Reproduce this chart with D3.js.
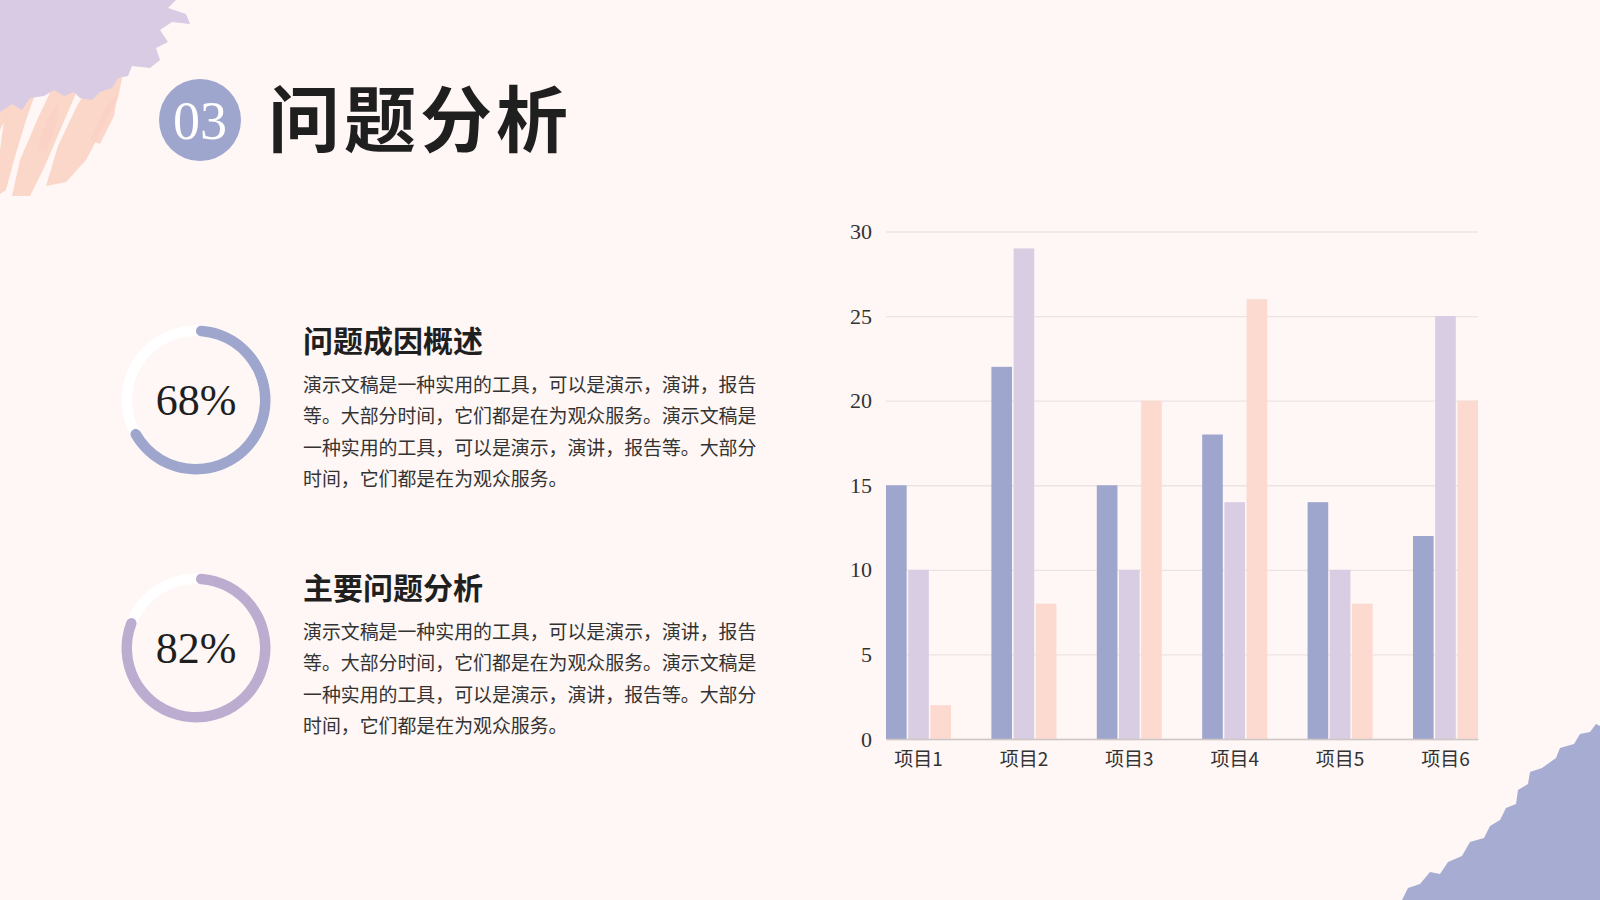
<!DOCTYPE html>
<html>
<head>
<meta charset="utf-8">
<script src="https://cdn.jsdelivr.net/npm/d3@7"></script>
<style>
  html, body { margin: 0; padding: 0; background: #fef7f5; }
  svg { display: block; }
</style>
</head>
<body>
<svg id="slide" width="1600" height="900"></svg>
<script>
// данные графика
var categories = ['项目1', '项目2', '项目3', '项目4', '项目5', '项目6']
var series1 = [15, 22, 15, 18, 14, 12]
var series2 = [10, 29, 10, 14, 10, 25]
var series3 = [2, 8, 20, 26, 8, 20]
var yTicks = [0, 5, 10, 15, 20, 25, 30]

// кольца
var ringValues = [68, 82]
var ringTitles = ['问题成因概述', '主要问题分析']
var bodyLines = [
    '演示文稿是一种实用的工具，可以是演示，演讲，报告',
    '等。大部分时间，它们都是在为观众服务。演示文稿是',
    '一种实用的工具，可以是演示，演讲，报告等。大部分',
    '时间，它们都是在为观众服务。'
]

var colors = ['#9fa6cd', '#d9cde4', '#fcdad0']
var ringColors = ['#9fa6cd', '#bcadd0']
var serif = '"Liberation Serif", "DejaVu Serif", "Noto Sans CJK SC", serif'
var cjk = '"Noto Sans CJK SC", sans-serif'

var svg = d3.select('#slide')

svg.append('rect').attr('width', 1600).attr('height', 900).attr('fill', '#fef7f5')

// декор: мазки кистью
var deco = svg.append('g')
// персиковые штрихи слева сверху
var peachStrokes = [
    [[0, 150], [4, 120], [18, 90], [34, 62], [44, 58], [40, 80], [26, 120], [14, 160], [6, 190], [0, 194]],
    [[12, 196], [20, 160], [38, 118], [56, 80], [70, 56], [86, 58], [80, 84], [62, 126], [44, 168], [30, 196]],
    [[46, 186], [58, 146], [76, 108], [94, 76], [112, 60], [124, 68], [118, 98], [102, 130], [86, 160], [66, 182]],
    [[0, 100], [14, 74], [26, 60], [20, 88], [6, 118], [0, 130]],
    [[36, 150], [48, 118], [60, 100], [56, 126], [46, 152]],
    [[90, 140], [104, 110], [118, 92], [114, 116], [100, 144]]
]
peachStrokes.forEach(function (p) {
    deco.append('path')
        .attr('d', d3.line().curve(d3.curveLinearClosed)(p))
        .attr('fill', '#fbd3c5')
        .attr('opacity', 0.9)
})
// сиреневое пятно
var lilac = [[0, 0], [176, 0], [168, 8], [186, 14], [190, 24], [172, 22], [160, 30], [168, 42], [156, 48], [160, 60], [150, 68], [132, 66], [128, 76], [118, 78], [112, 88], [100, 92], [92, 100], [80, 98], [74, 92], [64, 96], [54, 90], [44, 96], [30, 98], [22, 110], [12, 104], [0, 112]]
deco.append('path')
    .attr('d', d3.line().curve(d3.curveLinearClosed)(lilac))
    .attr('fill', '#d8cbe3')
// голубое пятно справа снизу
var blueBlob = [[1402, 900], [1408, 888], [1420, 884], [1430, 872], [1440, 874], [1448, 862], [1462, 856], [1470, 842], [1484, 838], [1490, 826], [1500, 820], [1506, 808], [1516, 804], [1518, 790], [1528, 784], [1530, 772], [1542, 768], [1556, 758], [1560, 748], [1574, 744], [1580, 734], [1590, 732], [1596, 724], [1600, 726], [1600, 900]]
deco.append('path')
    .attr('d', d3.line().curve(d3.curveLinearClosed)(blueBlob))
    .attr('fill', '#a6acd2')

// заголовок
svg.append('circle').attr('cx', 200).attr('cy', 120).attr('r', 41).attr('fill', '#9fa6cd')
svg.append('text')
    .attr('x', 200).attr('y', 120).attr('dy', '0.35em')
    .attr('text-anchor', 'middle')
    .style('font-family', serif).style('font-size', '54px')
    .attr('fill', '#ffffff')
    .text('03')
svg.append('text')
    .attr('x', 268).attr('y', 120).attr('dy', '0.36em')
    .style('font-family', cjk).style('font-size', '72px').style('font-weight', 700)
    .style('letter-spacing', '4px')
    .attr('fill', '#1f1f1f')
    .text('问题分析')

// кольца и тексты
var ringCy = [400, 648]
var headY = [341, 588]
ringValues.forEach(function (v, i) {
    var g = svg.append('g').attr('transform', 'translate(196,' + ringCy[i] + ')')
    var arc = d3.arc().innerRadius(64).outerRadius(74.5).cornerRadius(5.2)
    g.append('path')
        .attr('d', arc({ startAngle: 0, endAngle: 2 * Math.PI }))
        .attr('fill', '#ffffff')
    g.append('path')
        .attr('d', arc({ startAngle: 0, endAngle: 2 * Math.PI * v / 100 }))
        .attr('fill', ringColors[i])
    g.append('text')
        .attr('text-anchor', 'middle').attr('dy', '0.35em')
        .style('font-family', serif).style('font-size', '44px')
        .attr('fill', '#1f1f1f')
        .text(v + '%')

    svg.append('text')
        .attr('x', 303).attr('y', headY[i]).attr('dy', '0.36em')
        .style('font-family', cjk).style('font-size', '30px').style('font-weight', 700)
        .attr('fill', '#1f1f1f')
        .text(ringTitles[i])

    var body = svg.append('text')
        .style('font-family', cjk).style('font-size', '18.9px')
        .attr('fill', '#333333')
    bodyLines.forEach(function (line, j) {
        body.append('tspan')
            .attr('x', 303)
            .attr('y', headY[i] + 44 + j * 31.4)
            .attr('dy', '0.36em')
            .text(line)
    })
})

// столбчатая диаграмма
var plotLeft = 886, plotRight = 1478, plotTop = 231.5, plotBottom = 739
var x0 = d3.scaleBand().domain(categories).range([plotLeft, plotRight]).paddingInner(0.383).paddingOuter(0)
var x1 = d3.scaleBand().domain([0, 1, 2]).range([0, x0.bandwidth()]).paddingInner(0.07)
var y = d3.scaleLinear().domain([0, 30]).range([plotBottom, plotTop])

var yAxis = svg.append('g')
    .attr('transform', 'translate(' + plotLeft + ',0)')
    .call(d3.axisLeft(y).tickValues(yTicks).tickSize(-(plotRight - plotLeft)).tickPadding(14))
yAxis.select('.domain').remove()
yAxis.selectAll('.tick line').attr('stroke', '#ece4e2').attr('stroke-width', 1.3)
yAxis.selectAll('.tick text')
    .style('font-family', serif).style('font-size', '22px')
    .attr('fill', '#333333')

var allSeries = [series1, series2, series3]
var groups = svg.append('g').selectAll('g')
    .data(categories)
    .enter()
    .append('g')
    .attr('transform', function (d) { return 'translate(' + x0(d) + ',0)' })
groups.selectAll('rect')
    .data(function (d, i) {
        return allSeries.map(function (s, k) { return { k: k, value: s[i] } })
    })
    .enter()
    .append('rect')
    .attr('x', function (d) { return x1(d.k) })
    .attr('width', x1.bandwidth())
    .attr('y', function (d) { return y(d.value) })
    .attr('height', function (d) { return plotBottom - y(d.value) })
    .attr('fill', function (d) { return colors[d.k] })

var xAxis = svg.append('g')
    .attr('transform', 'translate(0,' + plotBottom + ')')
    .call(d3.axisBottom(x0).tickSize(0).tickPadding(14))
xAxis.select('.domain').attr('stroke', '#cfc6c6').attr('stroke-width', 1.5)
xAxis.selectAll('.tick text')
    .style('font-family', cjk).style('font-size', '19px')
    .attr('fill', '#333333')
</script>
</body>
</html>
